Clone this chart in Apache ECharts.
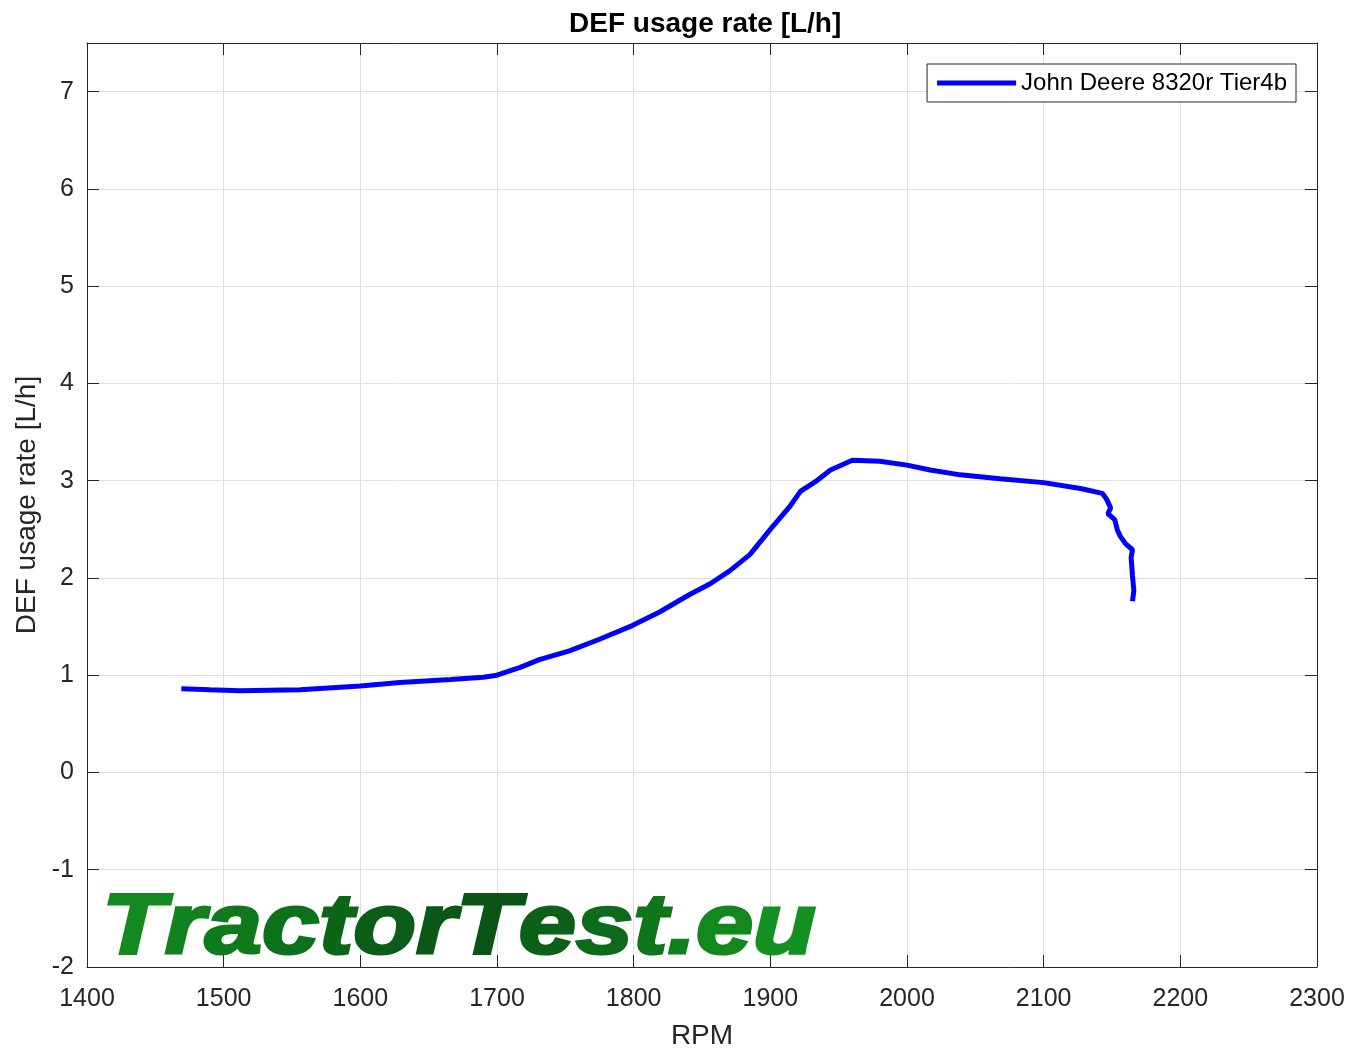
<!DOCTYPE html>
<html>
<head>
<meta charset="utf-8">
<script src="https://cdn.jsdelivr.net/npm/echarts@6/dist/echarts.min.js"></script>
<style>
  html, body { margin: 0; padding: 0; background: #fff; }
  #chart { width: 1352px; height: 1055px; }
</style>
</head>
<body>
<div id="chart"></div>
<script>
// values
const seriesName = 'John Deere 8320r Tier4b';
const rpm = [1469, 1490, 1512, 1556, 1600, 1629, 1666, 1690, 1700, 1717, 1731, 1753, 1775, 1799, 1819,
  1841, 1856, 1870, 1885, 1900, 1914, 1922, 1933, 1944, 1960, 1980, 2000, 2017, 2039, 2068, 2100,
  2127, 2143, 2146, 2149, 2147, 2152, 2154, 2156, 2160, 2165, 2164, 2165, 2166, 2165];
const defRate = [0.86, 0.85, 0.84, 0.85, 0.89, 0.925, 0.955, 0.98, 1.0, 1.08, 1.16, 1.25, 1.37, 1.51, 1.65,
  1.83, 1.94, 2.07, 2.24, 2.50, 2.73, 2.89, 2.99, 3.11, 3.21, 3.20, 3.16, 3.11, 3.06, 3.02, 2.98,
  2.92, 2.87, 2.81, 2.72, 2.66, 2.60, 2.49, 2.43, 2.35, 2.29, 2.21, 2.02, 1.87, 1.76];
const xTicks = [1400, 2300, 100];
const yTicks = [-2, 7.5, 1];

const txt = '#262626';
const font = 'Liberation Sans, Arial, sans-serif';

// watermark, one colour per letter (light - dark - light green)
const markText = 'TractorTest.eu';
const markColors = ['#13891f', '#11821e', '#0f7a1c', '#0d701a', '#0c6618', '#0b5e17', '#0a5816',
  '#0a5516', '#0c6018', '#0d6b1a', '#0f761c', '#11801e', '#12881f', '#139022'];

const chart = echarts.init(document.getElementById('chart'), null, { renderer: 'canvas' });

function axisCommon(show) {
  return {
    axisLine: { show: true, onZero: false, lineStyle: { color: txt, width: 1 } },
    axisTick: { show: true, inside: true, length: 12, lineStyle: { color: txt } },
    axisLabel: { show: show },
    splitLine: { show: false }
  };
}

const rich = {};
markColors.forEach((c, i) => {
  rich['c' + i] = {
    fill: c, stroke: c, lineWidth: 3,
    font: 'italic bold 86px "Liberation Sans", Arial, sans-serif'
  };
});
const markRich = markText.split('').map((ch, i) => '{c' + i + '|' + ch + '}').join('');

chart.setOption({
  animation: false,
  backgroundColor: '#fff',
  title: {
    text: 'DEF usage rate [L/h]',
    left: 564,
    top: 5,
    textStyle: { fontFamily: font, fontSize: 28, fontWeight: 'bold', color: '#000' }
  },
  legend: {
    right: 56,
    top: 64,
    orient: 'vertical',
    backgroundColor: '#fff',
    borderColor: txt,
    borderWidth: 1,
    borderRadius: 0,
    padding: [7, 9, 7, 10],
    itemWidth: 79,
    itemHeight: 5,
    itemGap: 6,
    icon: 'rect',
    textStyle: { fontFamily: font, fontSize: 24, color: '#000', padding: [0, 0, 0, 0] },
    data: [{ name: seriesName, itemStyle: { color: '#0000ff' } }]
  },
  grid: { left: 87, right: 35, top: 43, bottom: 87, containLabel: false },
  xAxis: [
    Object.assign(axisCommon(true), {
      type: 'value', position: 'bottom',
      min: xTicks[0], max: xTicks[1], interval: xTicks[2],
      name: 'RPM', nameLocation: 'middle', nameGap: 55,
      nameTextStyle: { fontFamily: font, fontSize: 28, color: txt },
      axisLabel: { show: true, fontFamily: font, fontSize: 25, color: txt, margin: 20,
        formatter: v => String(v) },
      splitLine: { show: true, lineStyle: { color: '#dfdfdf', width: 1 } }
    }),
    Object.assign(axisCommon(false), {
      type: 'value', position: 'top',
      min: xTicks[0], max: xTicks[1], interval: xTicks[2]
    })
  ],
  yAxis: [
    Object.assign(axisCommon(true), {
      type: 'value', position: 'left',
      min: yTicks[0], max: yTicks[1], interval: yTicks[2],
      name: 'DEF usage rate [L/h]', nameLocation: 'middle', nameGap: 42,
      nameTextStyle: { fontFamily: font, fontSize: 28, color: txt },
      axisLabel: {
        show: true, fontFamily: font, fontSize: 25, color: txt, margin: 13,
        padding: [4, 0, 0, 0],
        formatter: v => (Number.isInteger(v) ? String(v) : '')
      },
      splitLine: { show: true, lineStyle: { color: '#dfdfdf', width: 1 } }
    }),
    Object.assign(axisCommon(false), {
      type: 'value', position: 'right',
      min: yTicks[0], max: yTicks[1], interval: yTicks[2]
    })
  ],
  graphic: [{
    type: 'text',
    x: 102,
    y: 886,
    scaleX: 1.195,
    z: 5,
    style: {
      text: markRich,
      rich: rich,
      font: 'italic bold 86px "Liberation Sans", Arial, sans-serif',
      verticalAlign: 'top'
    }
  }],
  series: [{
    name: seriesName,
    type: 'line',
    data: rpm.map((r, i) => [r, defRate[i]]),
    showSymbol: false,
    smooth: false,
    z: 10,
    lineStyle: { color: '#0000ff', width: 5 },
    itemStyle: { color: '#0000ff' }
  }]
});
</script>
</body>
</html>
